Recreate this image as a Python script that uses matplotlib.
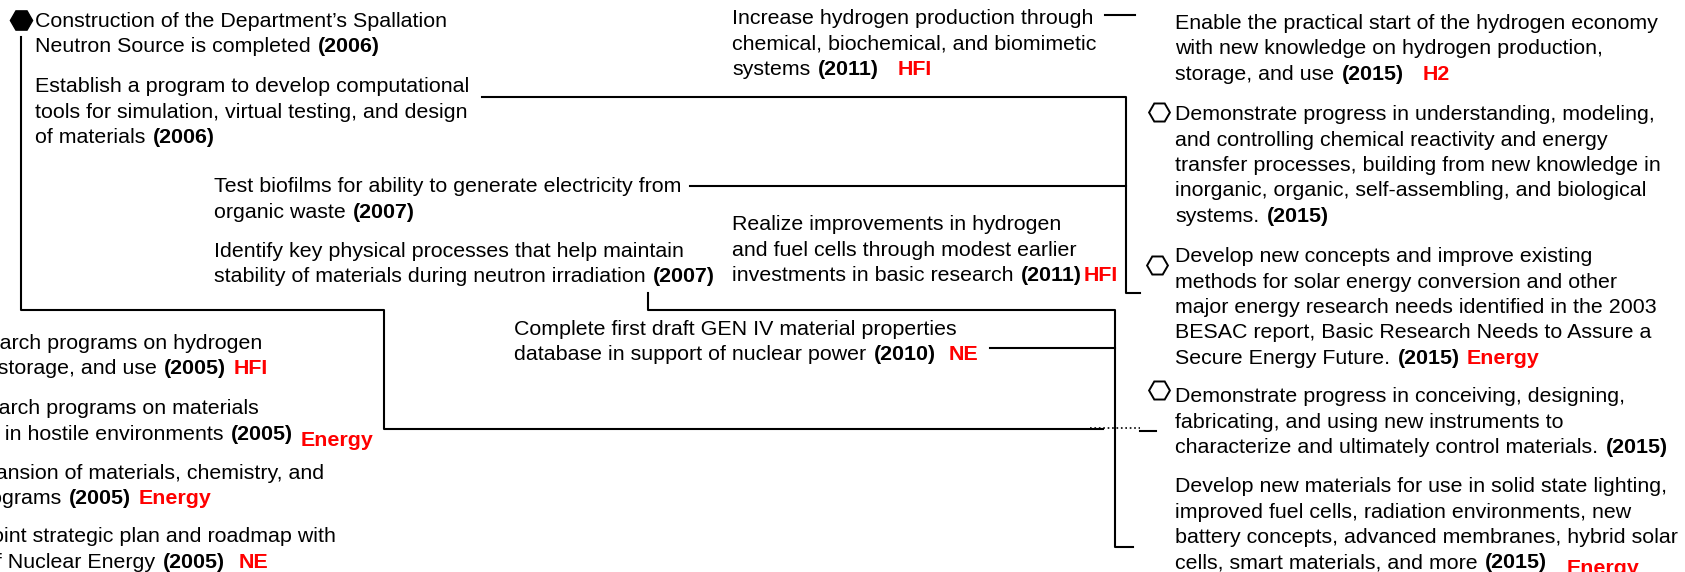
import matplotlib.pyplot as plt

plt.rcParams['font.family'] = ['Liberation Sans', 'DejaVu Sans']

# ------ text content (n = normal, b = bold, r = red label, rl = red label set low) ------

spallation = [[("Construction of the Department\u2019s Spallation", "n")],
              [("Neutron Source is completed ", "n"), ("(2006)", "b")]]
establish = [[("Establish a program to develop computational", "n")],
             [("tools for simulation, virtual testing, and design", "n")],
             [("of materials ", "n"), ("(2006)", "b")]]
biofilms = [[("Test biofilms for ability to generate electricity from", "n")],
            [("organic waste ", "n"), ("(2007)", "b")]]
identify = [[("Identify key physical processes that help maintain", "n")],
            [("stability of materials during neutron irradiation ", "n"), ("(2007)", "b")]]
increase = [[("Increase hydrogen production through", "n")],
            [("chemical, biochemical, and biomimetic", "n")],
            [("systems ", "n"), ("(2011)", "b"), ("   HFI", "r")]]
realize = [[("Realize improvements in hydrogen", "n")],
           [("and fuel cells through modest earlier", "n")],
           [("investments in basic research ", "n"), ("(2011)", "b"), ("HFI", "r")]]
gen4 = [[("Complete first draft GEN IV material properties", "n")],
        [("database in support of nuclear power ", "n"), ("(2010)", "b"), ("  NE", "r")]]
enable = [[("Enable the practical start of the hydrogen economy", "n")],
          [("with new knowledge on hydrogen production,", "n")],
          [("storage, and use ", "n"), ("(2015)", "b"), ("   H2", "r")]]
reactivity = [[("Demonstrate progress in understanding, modeling,", "n")],
              [("and controlling chemical reactivity and energy", "n")],
              [("transfer processes, building from new knowledge in", "n")],
              [("inorganic, organic, self-assembling, and biological", "n")],
              [("systems. ", "n"), ("(2015)", "b")]]
solar = [[("Develop new concepts and improve existing", "n")],
         [("methods for solar energy conversion and other", "n")],
         [("major energy research needs identified in the 2003", "n")],
         [("BESAC report, Basic Research Needs to Assure a", "n")],
         [("Secure Energy Future. ", "n"), ("(2015)", "b"), (" Energy", "r")]]
instruments = [[("Demonstrate progress in conceiving, designing,", "n")],
               [("fabricating, and using new instruments to", "n")],
               [("characterize and ultimately control materials. ", "n"), ("(2015)", "b")]]
new_materials = [[("Develop new materials for use in solid state lighting,", "n")],
                 [("improved fuel cells, radiation environments, new", "n")],
                 [("battery concepts, advanced membranes, hybrid solar", "n")],
                 [("cells, smart materials, and more ", "n"), ("(2015)", "b"), ("   Energy", "rl")]]

# 2005 items, cut by the left edge
h2_2005 = [[("Initiate research programs on hydrogen", "n")],
           [("production, storage, and use ", "n"), ("(2005)", "b"), (" HFI", "r")]]
hostile_2005 = [[("Initiate research programs on materials", "n")],
                [("design in hostile environments ", "n"), ("(2005)", "b"), (" Energy", "rl")]]
expansion_2005 = [[("Support expansion of materials, chemistry, and", "n")],
                  [("nuclear programs ", "n"), ("(2005)", "b"), (" Energy", "r")]]
roadmap_2005 = [[("Develop a joint strategic plan and roadmap with", "n")],
                [("the Office of Nuclear Energy ", "n"), ("(2005)", "b"), ("  NE", "r")]]

# ------ layout (pixels) ------

left_blocks = [(spallation, 35, 20), (establish, 35, 85), (biofilms, 214, 185),
               (identify, 214, 250), (increase, 732, 17), (realize, 732, 223),
               (gen4, 514, 328), (enable, 1175, 22), (reactivity, 1175, 113),
               (solar, 1175, 255), (instruments, 1175, 395), (new_materials, 1175, 485)]
right_blocks = [(h2_2005, [262, 268], 342), (hostile_2005, [259, 373], 407),
                (expansion_2005, [324, 211], 472), (roadmap_2005, [336, 268], 535)]

links = [([21, 21, 384, 384, 1103], [37, 310, 310, 429, 429]),
         ([1140, 1156], [430.5, 430.5]),
         ([648, 648, 1115, 1115, 1133], [293, 310, 310, 547, 547]),
         ([990, 1115], [348, 348]),
         ([482, 1126, 1126, 1140], [97, 97, 293, 293]),
         ([690, 1126], [186, 186]),
         ([1105, 1135], [15, 15])]
dotted_link = ([1090, 1140], [428, 428])
filled_hex = ([21], [20])
open_hex = ([1159, 1157, 1159], [112, 265, 390])

FS = 15.4
LINE_GAP = 25.5
BASE = 7
SPACE = 0.278 * FS * 100 / 72
RED = '#ff0000'
STYLE = {'n': dict(color='black', fontweight='normal'),
         'b': dict(color='black', fontweight='bold'),
         'r': dict(color=RED, fontweight='bold'),
         'rl': dict(color=RED, fontweight='bold')}

fig = plt.figure(figsize=(16.85, 5.72), dpi=100)
ax = fig.add_axes([0, 0, 1, 1])
ax.set_xlim(0, 1685)
ax.set_ylim(572, 0)
ax.axis('off')
renderer = fig.canvas.get_renderer()


def seg_width(s, st):
    t = ax.text(0, 0, s, fontsize=FS, **STYLE[st])
    w = t.get_window_extent(renderer).width
    t.remove()
    return w


def draw_line(segs, x, yc, align='left'):
    items = []
    cur = 0
    for s, st in segs:
        lead = len(s) - len(s.lstrip(' '))
        trail = len(s) - len(s.rstrip(' '))
        core = s.strip(' ')
        if items:
            cur += 1.5
        cur += lead * SPACE
        items.append((cur, core, st))
        cur += seg_width(core, st) + trail * SPACE
    x0 = x - cur if align == 'right' else x
    for off, core, st in items:
        dy = 6 if st == 'rl' else 0
        ax.text(x0 + off, yc + BASE + dy, core, fontsize=FS, va='baseline',
                ha='left', **STYLE[st])


for lines, x, y0 in left_blocks:
    for i, segs in enumerate(lines):
        draw_line(segs, x, y0 + i * LINE_GAP)

for lines, rights, y0 in right_blocks:
    for i, segs in enumerate(lines):
        draw_line(segs, rights[i], y0 + i * LINE_GAP, align='right')

for xs, ys in links:
    ax.plot(xs, ys, color='black', lw=1.5)
ax.plot(*dotted_link, color='black', lw=1.2, ls=':')

ax.plot(*filled_hex, ls='none', marker='H', ms=16, color='black')
ax.plot(*open_hex, ls='none', marker='H', ms=15, mfc='white', mec='black', mew=1.4)

fig.savefig('out.png', dpi=100)
